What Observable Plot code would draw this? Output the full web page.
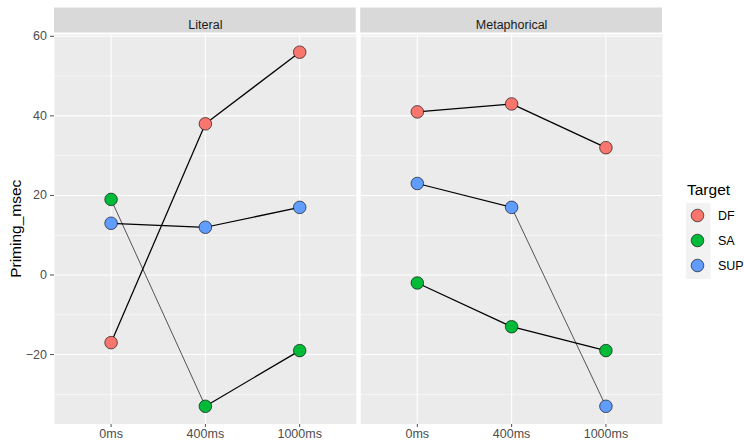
<!DOCTYPE html>
<html><head><meta charset="utf-8">
<script src="https://cdn.jsdelivr.net/npm/d3@7"></script>
<script src="https://cdn.jsdelivr.net/npm/@observablehq/plot@0.6"></script>
<style>
body{margin:0;background:#fff;}
#wrap{position:relative;width:744px;height:444px;}
</style></head><body><div id="wrap"></div>
<script>
// ---- data ----
const panels = ["Literal", "Metaphorical"];
const delays = ["0ms", "400ms", "1000ms"];
const targets = ["DF", "SA", "SUP"];
const colors = ["#F8766D", "#00BA38", "#619CFF"];
const literalDF = [-17, 38, 56];
const literalSA = [19, -33, -19];
const literalSUP = [13, 12, 17];
const metaphoricalDF = [41, 43, 32];
const metaphoricalSA = [-2, -13, -19];
const metaphoricalSUP = [23, 17, -33];
const yMajor = [-20, 0, 20, 40, 60];
const yMinor = [-30, -10, 10, 30, 50];
const yTitle = "Priming_msec";
const legendTitle = "Target";
// style: segments drawn with thin line (panel/target/start delay)
const thinSegments = ["Literal/SA/0ms", "Metaphorical/SUP/400ms"];

const series = {
  Literal: {DF: literalDF, SA: literalSA, SUP: literalSUP},
  Metaphorical: {DF: metaphoricalDF, SA: metaphoricalSA, SUP: metaphoricalSUP}
};
const rows = [];
const segments = [];
panels.forEach(p => targets.forEach(t => {
  const vals = series[p][t];
  delays.forEach((d, i) => rows.push({panel: p, target: t, delay: d, value: vals[i]}));
  for (let i = 0; i < delays.length - 1; i++) {
    segments.push({panel: p, target: t, d1: delays[i], v1: vals[i], d2: delays[i + 1], v2: vals[i + 1],
      thin: thinSegments.includes(`${p}/${t}/${delays[i]}`)});
  }
}));

const lo = d3.min(rows, d => d.value), hi = d3.max(rows, d => d.value);
const ex = (hi - lo) * 0.05;
const FONT = "'Liberation Sans', Arial, Helvetica, sans-serif";
const W = 744, H = 444, ML = 54, MR = 82, MT = 34, MB = 20.5;

const chart = Plot.plot({
  width: W,
  height: H,
  marginLeft: ML,
  marginRight: MR,
  marginTop: MT,
  marginBottom: MB,
  style: {fontFamily: FONT, fontSize: "12.5px", color: "#4D4D4D", background: "white"},
  fx: {domain: panels, paddingInner: 9 / 617, paddingOuter: 0, round: false, axis: null, label: null},
  x: {type: "point", domain: delays, padding: 0.6, round: false, tickSize: 3.5, tickPadding: 1.5, label: null},
  y: {domain: [lo - ex, hi + ex], ticks: yMajor, tickSize: 4, tickPadding: 3.5, label: null},
  color: {domain: targets, range: colors},
  marks: [
    Plot.frame({fill: "#EBEBEB", stroke: "none"}),
    Plot.ruleY(yMinor, {stroke: "white", strokeWidth: 0.55}),
    Plot.ruleY(yMajor, {stroke: "white", strokeWidth: 1.1}),
    Plot.ruleX(delays, {stroke: "white", strokeWidth: 1.1}),
    Plot.link(segments, {fx: "panel", x1: "d1", y1: "v1", x2: "d2", y2: "v2",
      stroke: "black", strokeWidth: d => d.thin ? 0.65 : 1.25}),
    Plot.dot(rows, {fx: "panel", x: "delay", y: "value", r: 6.3, fill: "target",
      fillOpacity: 1, stroke: "black", strokeWidth: 0.6}),
    Plot.text(panels, {fx: d => d, text: d => d, frameAnchor: "top", dy: -14,
      fontSize: 12.5, fill: "#1A1A1A"})
  ]
});

document.getElementById("wrap").appendChild(chart);

// ---- strip backgrounds, y title, legend ----
const svg = d3.select(chart.tagName.toLowerCase() === "svg" ? chart : chart.querySelector("svg"));
const fxs = chart.scale("fx");
const fxApply = fxs.apply ? (v => fxs.apply(v)) :
  d3.scaleBand(fxs.domain, fxs.range).paddingInner(fxs.paddingInner || 0).paddingOuter(fxs.paddingOuter || 0);
const bw = fxs.bandwidth;
const yTop = MT, yBot = H - MB;
panels.forEach(p => {
  svg.insert("rect", "g")
    .attr("x", fxApply(p)).attr("width", bw)
    .attr("y", yTop - 26.5).attr("height", 25)
    .attr("fill", "#D9D9D9");
});

svg.append("text")
  .attr("transform", `translate(21,${(yTop + yBot) / 2}) rotate(-90)`)
  .attr("text-anchor", "middle")
  .attr("font-size", 15.5).attr("fill", "black").attr("font-family", FONT)
  .text(yTitle);

const lg = svg.append("g").attr("font-family", FONT).attr("text-anchor", "start");
const lx = W - MR + 24, ly = 195;
lg.append("text").attr("x", lx + 1).attr("y", ly).attr("font-size", 15.5).attr("fill", "black").text(legendTitle);
lg.append("rect").attr("x", lx).attr("y", ly + 8).attr("width", 24.5).attr("height", 25 * targets.length + 1)
  .attr("fill", "#F2F2F2");
targets.forEach((t, i) => {
  const cy = ly + 20.5 + 25 * i;
  lg.append("circle").attr("cx", lx + 11.5).attr("cy", cy).attr("r", 6.3)
    .attr("fill", colors[i]).attr("stroke", "black").attr("stroke-width", 0.6);
  lg.append("text").attr("x", lx + 32).attr("y", cy).attr("dy", "0.35em")
    .attr("font-size", 12.5).attr("fill", "black").text(t);
});
</script>
</body></html>
